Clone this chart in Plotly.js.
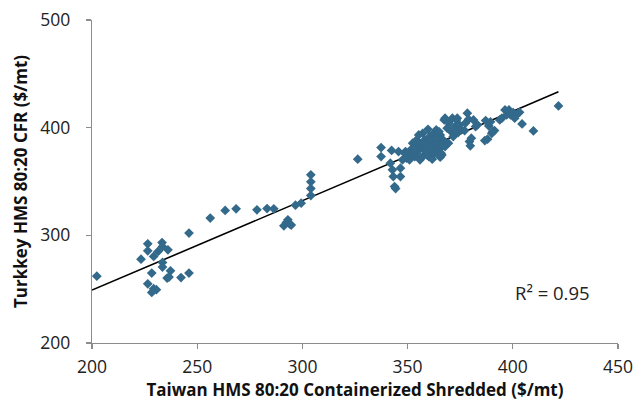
<!DOCTYPE html>
<html>
<head>
<meta charset="utf-8">
<script src="https://cdn.plot.ly/plotly-3.0.1.min.js"></script>
<style>
  html, body { margin: 0; padding: 0; background: #fff; }
  #chart { width: 634px; height: 401px; }
</style>
</head>
<body>
<div id="chart"></div>
<script>
// Taiwan HMS 80:20 containerized shredded price ($/mt)
const taiwanPrice = [
  202.3, 223.3, 226.5, 226.5, 229.3, 231.4, 233.3, 233.5, 236.1, 233.5,
  233.5, 228.4, 237.3, 235.7, 236.6, 226.5, 229.3, 230.6, 228.4, 242.3,
  246.1, 246.1,
  256.2, 263.3, 268.5, 278.4, 283.2, 286.4, 291.2, 292.4, 293.1, 293.9,
  294.7, 296.7, 299.4, 304.0, 304.0, 304.0, 304.0, 326.3,
  337.4, 337.4, 342.4, 341.8, 342.8, 343.2, 343.8, 344.3, 345.7, 346.6,
  346.6, 347.6, 348.6, 349.5, 350.9, 351.5, 352.4, 353.4, 354.3, 354.3,
  355.3, 355.9, 356.7, 357.2, 357.8, 358.2, 359.2, 359.7, 360.1, 360.5,
  361.1, 361.7, 362.0, 362.4, 363.0, 363.6, 364.0, 364.4, 364.9, 365.5,
  365.9, 366.3, 366.9, 367.4, 367.8, 367.8, 368.8, 369.4, 369.7, 370.7,
  371.3, 371.7, 372.6, 373.2, 373.6, 374.0, 374.6, 375.5, 377.1, 377.4,
  378.4, 379.0, 379.4, 379.8, 380.3, 381.3, 382.3, 383.2, 387.1, 386.7,
  388.0, 388.6, 389.4, 390.0, 390.5, 391.3, 393.8, 394.8, 396.3, 397.1,
  398.2, 399.0, 400.2, 400.9, 402.5, 403.2, 404.4, 409.8, 421.7,
  352.4, 353.4, 356.3, 357.2, 358.6, 360.1, 361.7, 365.5, 366.3, 350.9,
  349.0, 354.3, 355.3, 358.2, 363.6, 364.9
];

// Turkey HMS 80:20 CFR price ($/mt)
const turkeyPrice = [
  262.1, 277.9, 292.1, 285.6, 280.4, 285.0, 293.3, 289.6, 286.6, 274.8,
  270.5, 265.0, 267.1, 260.3, 261.2, 255.0, 250.4, 249.5, 247.0, 260.8,
  265.0, 302.1,
  316.0, 323.1, 324.6, 323.7, 324.9, 324.6, 308.8, 311.9, 314.4, 310.7,
  309.5, 328.0, 329.9, 337.0, 343.5, 349.7, 356.2, 370.7,
  381.5, 373.2, 378.8, 367.0, 360.8, 354.6, 345.3, 343.5, 377.8, 362.4,
  354.6, 370.1, 376.3, 371.6, 370.1, 379.4, 385.6, 382.5, 388.6, 376.3,
  393.3, 370.1, 385.6, 394.8, 380.9, 388.6, 374.7, 398.5, 384.0, 391.7,
  377.8, 388.6, 382.5, 394.8, 376.3, 397.9, 385.6, 390.2, 380.0, 393.3,
  376.3, 384.0, 388.6, 407.2, 408.8, 382.5, 399.5, 385.6, 404.1, 396.4,
  408.8, 391.7, 401.0, 407.2, 408.8, 395.5, 402.6, 397.9, 397.3, 404.1,
  413.4, 407.8, 387.1, 383.1, 390.2, 407.2, 401.0, 402.6, 406.6, 388.0,
  389.3, 401.6, 405.4, 394.8, 396.4, 397.3, 407.2, 408.8, 416.5, 411.8,
  416.5, 411.8, 414.0, 408.8, 413.4, 414.3, 403.5, 397.0, 420.2,
  376.3, 373.2, 380.9, 373.2, 377.8, 373.2, 370.7, 372.6, 374.7, 374.7,
  377.8, 380.9, 385.6, 385.6, 390.2, 396.4
];

const xTicks = [200, 250, 300, 350, 400, 450];
const yTicks = [200, 300, 400, 500];
const rSquaredLabel = 'R² = 0.95';

// Ordinary least-squares fit for the trend line
function linearFit(xs, ys) {
  const n = xs.length;
  let sx = 0, sy = 0, sxx = 0, sxy = 0;
  for (let i = 0; i < n; i++) {
    sx += xs[i]; sy += ys[i];
    sxx += xs[i] * xs[i]; sxy += xs[i] * ys[i];
  }
  const slope = (n * sxy - sx * sy) / (n * sxx - sx * sx);
  const intercept = (sy - slope * sx) / n;
  return { slope, intercept };
}

const fit = linearFit(taiwanPrice, turkeyPrice);
const lineX = [200, Math.max(...taiwanPrice)];
const lineY = lineX.map(v => fit.intercept + fit.slope * v);

const axisColor = '#8c8c8c';
const tickFont = { family: '"Open Sans", sans-serif', size: 17.5, color: '#222' };
const titleFont = { family: '"Open Sans", sans-serif', size: 17, color: '#111', weight: 'bold' };

const traces = [
  {
    x: lineX, y: lineY,
    type: 'scatter', mode: 'lines',
    line: { color: '#000', width: 1.6 },
    hoverinfo: 'skip', showlegend: false
  },
  {
    x: taiwanPrice, y: turkeyPrice,
    type: 'scatter', mode: 'markers',
    marker: { symbol: 'diamond', size: 7.5, color: '#33698a' },
    showlegend: false
  }
];

const layout = {
  width: 634, height: 401,
  margin: { l: 92, r: 16, t: 20, b: 58 },
  paper_bgcolor: '#fff', plot_bgcolor: '#fff',
  showlegend: false,
  xaxis: {
    range: [200, 450], tickvals: xTicks, ticktext: xTicks.map(String),
    showgrid: false, zeroline: false,
    showline: true, linecolor: axisColor, linewidth: 1.3,
    ticks: 'outside', ticklen: 5, tickcolor: axisColor, tickwidth: 1.3,
    tickfont: tickFont, ticklabelstandoff: 3,
    title: { text: '<b>Taiwan HMS 80:20 Containerized Shredded ($/mt)</b>', font: titleFont, standoff: 4 }
  },
  yaxis: {
    range: [200, 500], tickvals: yTicks, ticktext: yTicks.map(String),
    showgrid: false, zeroline: false,
    showline: true, linecolor: axisColor, linewidth: 1.3,
    ticks: 'outside', ticklen: 5, tickcolor: axisColor, tickwidth: 1.3,
    tickfont: tickFont, ticklabelstandoff: 12,
    title: { text: '<b>Turkkey HMS 80:20 CFR ($/mt)</b>', font: titleFont, standoff: 8 }
  },
  annotations: [
    {
      text: rSquaredLabel, xref: 'paper', yref: 'paper',
      x: 0.95, y: 0.155, xanchor: 'right', yanchor: 'middle',
      showarrow: false,
      font: { family: '"Open Sans", sans-serif', size: 18.5, color: '#222' }
    }
  ]
};

Plotly.newPlot('chart', traces, layout, { staticPlot: true, displayModeBar: false });
</script>
</body>
</html>
